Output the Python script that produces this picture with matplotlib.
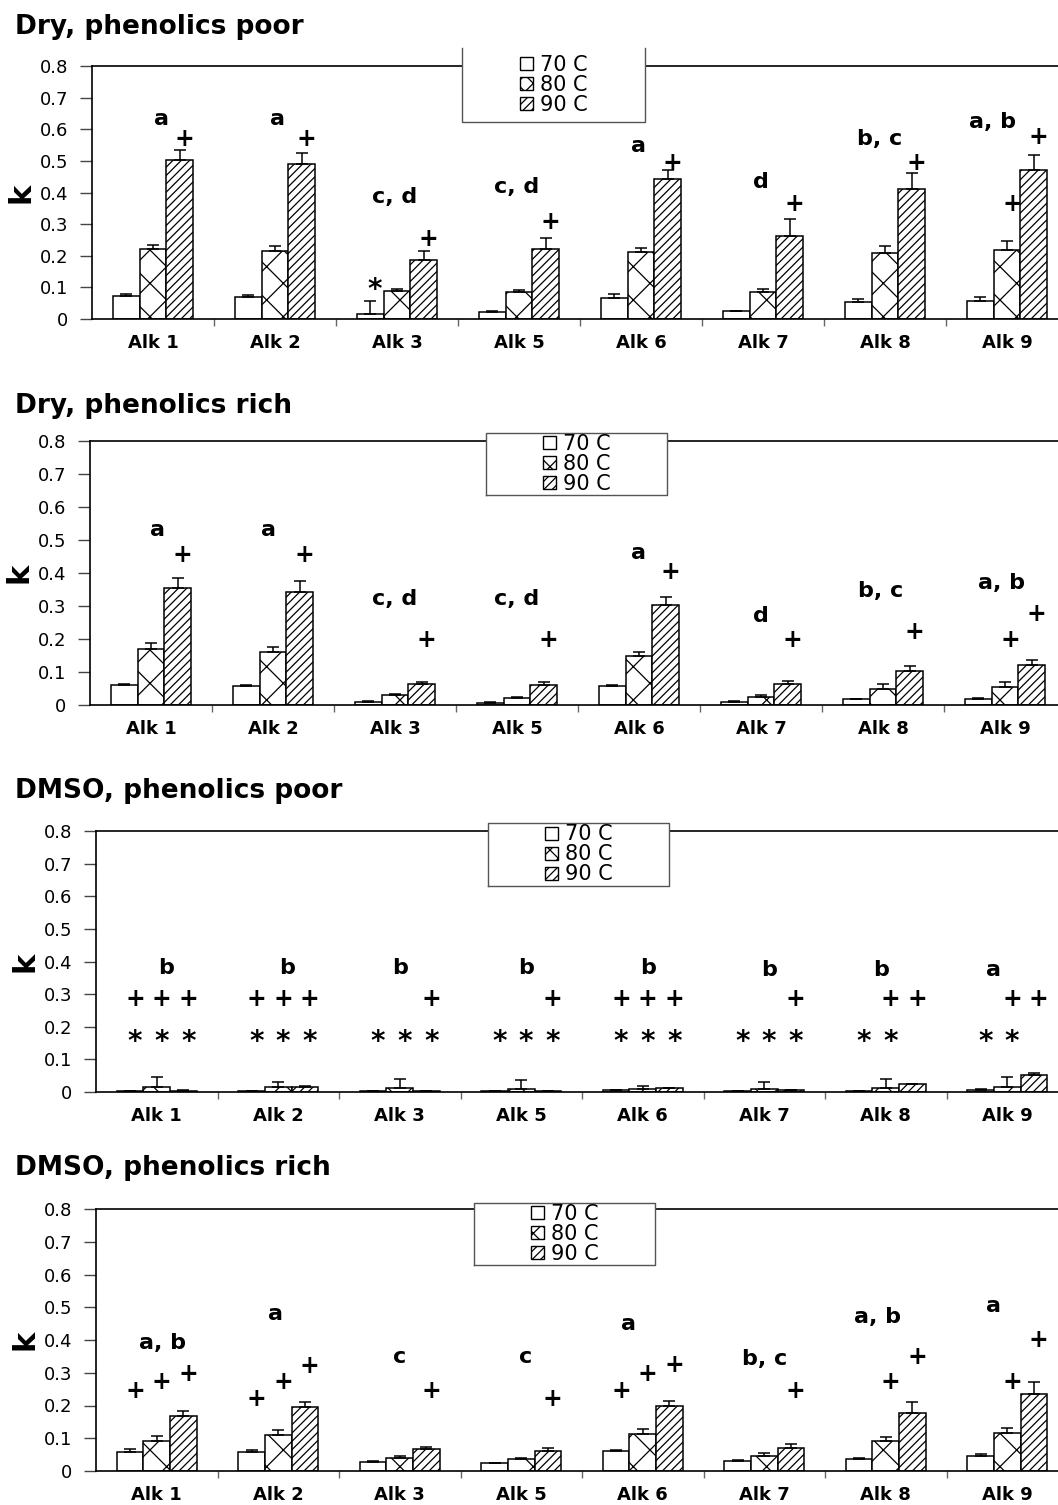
import numpy as np
import matplotlib.pyplot as plt
from matplotlib.patches import Rectangle, Patch

plt.rcParams['font.family'] = ['DejaVu Sans']
plt.rcParams['hatch.linewidth'] = 0.9

groups = ['Alk 1', 'Alk 2', 'Alk 3', 'Alk 5', 'Alk 6', 'Alk 7', 'Alk 8', 'Alk 9']
temps = ['70 C', '80 C', '90 C']
hatches = ['', 'x', '////']
legend_hatches = ['', 'xx', '////']
titles = ['Dry, phenolics poor', 'Dry, phenolics rich',
          'DMSO, phenolics poor', 'DMSO, phenolics rich']

# Dry, phenolics poor
dp_k70 = [0.072, 0.070, 0.017, 0.022, 0.067, 0.024, 0.054, 0.058]
dp_e70 = [0.008, 0.006, 0.039, 0.003, 0.011, 0.002, 0.010, 0.012]
dp_k80 = [0.222, 0.215, 0.087, 0.085, 0.212, 0.084, 0.209, 0.217]
dp_e80 = [0.013, 0.016, 0.009, 0.008, 0.014, 0.011, 0.023, 0.029]
dp_k90 = [0.502, 0.491, 0.188, 0.222, 0.444, 0.261, 0.412, 0.472]
dp_e90 = [0.031, 0.034, 0.026, 0.034, 0.026, 0.054, 0.049, 0.046]
dp_letters = ['a', 'a', 'c, d', 'c, d', 'a', 'd', 'b, c', 'a, b']
dp_letter_y = [0.633, 0.633, 0.386, 0.417, 0.549, 0.433, 0.570, 0.623]
dp_plus = [(0, 2, 0.575), (1, 2, 0.575), (2, 2, 0.257), (3, 2, 0.312), (4, 2, 0.499),
           (5, 2, 0.367), (6, 2, 0.499), (7, 2, 0.581), (7, 1, 0.367)]
dp_star = [(2, 0, 0.117)]

# Dry, phenolics rich
dr_k70 = [0.061, 0.058, 0.010, 0.007, 0.058, 0.010, 0.017, 0.018]
dr_e70 = [0.002, 0.002, 0.002, 0.002, 0.002, 0.002, 0.002, 0.002]
dr_k80 = [0.169, 0.162, 0.030, 0.022, 0.148, 0.025, 0.048, 0.054]
dr_e80 = [0.018, 0.015, 0.003, 0.003, 0.014, 0.005, 0.015, 0.017]
dr_k90 = [0.354, 0.343, 0.064, 0.060, 0.303, 0.063, 0.104, 0.120]
dr_e90 = [0.031, 0.032, 0.007, 0.010, 0.025, 0.010, 0.014, 0.016]
dr_letters = ['a', 'a', 'c, d', 'c, d', 'a', 'd', 'b, c', 'a, b']
dr_letter_y = [0.530, 0.530, 0.323, 0.323, 0.460, 0.270, 0.346, 0.371]
dr_plus = [(0, 2, 0.460), (1, 2, 0.460), (2, 2, 0.202), (3, 2, 0.202), (4, 2, 0.407),
           (5, 2, 0.202), (6, 2, 0.227), (7, 2, 0.280), (7, 1, 0.202)]
dr_star = []

# DMSO, phenolics poor
mp_k70 = [0.002, 0.003, 0.002, 0.003, 0.005, 0.004, 0.003, 0.006]
mp_e70 = [0.000, 0.000, 0.000, 0.000, 0.001, 0.000, 0.000, 0.004]
mp_k80 = [0.014, 0.014, 0.013, 0.010, 0.010, 0.009, 0.013, 0.014]
mp_e80 = [0.031, 0.018, 0.026, 0.027, 0.009, 0.023, 0.026, 0.031]
mp_k90 = [0.003, 0.016, 0.003, 0.003, 0.012, 0.006, 0.023, 0.052]
mp_e90 = [0.002, 0.002, 0.001, 0.001, 0.001, 0.001, 0.001, 0.005]
mp_letters = ['b', 'b', 'b', 'b', 'b', 'b', 'b', 'a']
mp_letter_y = [0.381, 0.381, 0.381, 0.381, 0.381, 0.375, 0.375, 0.375]
mp_plus_bars = [[0, 1, 2], [0, 1, 2], [2], [2], [0, 1, 2], [2], [1, 2], [1, 2]]
mp_star_bars = [[0, 1, 2], [0, 1, 2], [0, 1, 2], [0, 1, 2], [0, 1, 2], [0, 1, 2], [0, 1], [0, 1]]
mp_plus_y = 0.289
mp_star_y = 0.179
mp_plus = [(g, b, mp_plus_y) for g, bs in enumerate(mp_plus_bars) for b in bs]
mp_star = [(g, b, mp_star_y) for g, bs in enumerate(mp_star_bars) for b in bs]

# DMSO, phenolics rich
mr_k70 = [0.059, 0.059, 0.026, 0.023, 0.062, 0.031, 0.038, 0.047]
mr_e70 = [0.007, 0.005, 0.006, 0.002, 0.002, 0.002, 0.001, 0.005]
mr_k80 = [0.092, 0.110, 0.041, 0.036, 0.112, 0.046, 0.092, 0.115]
mr_e80 = [0.015, 0.015, 0.006, 0.005, 0.016, 0.008, 0.011, 0.015]
mr_k90 = [0.169, 0.194, 0.066, 0.062, 0.197, 0.071, 0.178, 0.235]
mr_e90 = [0.015, 0.016, 0.006, 0.007, 0.018, 0.010, 0.032, 0.038]
mr_letters = ['a, b', 'a', 'c', 'c', 'a', 'b, c', 'a, b', 'a']
mr_letter_y = [0.393, 0.479, 0.348, 0.348, 0.451, 0.342, 0.472, 0.504]
mr_plus = [(0, 0, 0.250), (0, 1, 0.275), (0, 2, 0.301), (1, 0, 0.225), (1, 1, 0.275),
           (1, 2, 0.326), (2, 2, 0.250), (3, 2, 0.225), (4, 0, 0.250), (4, 1, 0.302),
           (4, 2, 0.327), (5, 2, 0.250), (6, 1, 0.275), (6, 2, 0.353), (7, 1, 0.275),
           (7, 2, 0.406)]
mr_star = []

# layout (pixels of the 1058x1505 figure)
axes_px = [(92, 66, 1068, 319), (90, 441, 1066, 705),
           (96, 831, 1068, 1092), (96, 1209, 1068, 1471)]
legend_px = [(462, 48, 645, 122), (486, 433, 667, 495),
             (488, 823, 669, 886), (474, 1203, 655, 1265)]
legend_top_edge = [False, True, True, True]
title_base = [34, 413, 798, 1175]
letter_dx = [[0.07, 0.02, -0.02, -0.02, -0.02, -0.02, -0.04, -0.12],
             [0.05, -0.04, 0.0, 0.0, 0.0, 0.0, -0.02, -0.03],
             [0.08, 0.07, 0.0, 0.04, 0.04, 0.04, -0.04, -0.11],
             [0.05, -0.02, 0.0, 0.04, -0.12, 0.0, -0.07, -0.11]]

panels = [
    ([dp_k70, dp_k80, dp_k90], [dp_e70, dp_e80, dp_e90], dp_letters, dp_letter_y, dp_plus, dp_star),
    ([dr_k70, dr_k80, dr_k90], [dr_e70, dr_e80, dr_e90], dr_letters, dr_letter_y, dr_plus, dr_star),
    ([mp_k70, mp_k80, mp_k90], [mp_e70, mp_e80, mp_e90], mp_letters, mp_letter_y, mp_plus, mp_star),
    ([mr_k70, mr_k80, mr_k90], [mr_e70, mr_e80, mr_e90], mr_letters, mr_letter_y, mr_plus, mr_star),
]

FW, FH = 1058, 1505
W = 0.22
xc = np.arange(len(groups)) + 0.5


def mark(ax, xv, yv, s, size, lift):
    ax.annotate(s, (xv, yv), xytext=(0, -lift * size), textcoords='offset points',
                ha='center', va='baseline', fontsize=size, fontweight='bold',
                annotation_clip=False, zorder=4)


fig = plt.figure(figsize=(FW / 100, FH / 100), dpi=100)

for i, (vals, errs, letters, letter_y, pluses, stars) in enumerate(panels):
    x0, y0, x1, y1 = axes_px[i]
    ax = fig.add_axes([x0 / FW, 1 - y1 / FH, (x1 - x0) / FW, (y1 - y0) / FH])
    for j in range(3):
        xs = xc + (j - 1) * W
        ax.bar(xs, vals[j], W, color='white', edgecolor='black', hatch=hatches[j],
               linewidth=1.1, zorder=2)
        ax.errorbar(xs, vals[j], yerr=[np.zeros(len(groups)), errs[j]], fmt='none',
                    ecolor='black', elinewidth=1.1, capsize=4.5, capthick=1.1, zorder=3)

    for g, s in enumerate(letters):
        mark(ax, xc[g] + letter_dx[i][g], letter_y[g], s, 16, 0.28)
    for g, b, yv in pluses:
        mark(ax, xc[g] + (b - 1) * W + 0.04, yv, '+', 17, 0.36)
    for g, b, yv in stars:
        mark(ax, xc[g] + (b - 1) * W + 0.04, yv, '*', 20, 0.575)

    ax.set_xlim(0, len(groups))
    ax.set_ylim(0, 0.8)
    yt = np.arange(0, 0.81, 0.1)
    ax.set_yticks(yt)
    ax.set_yticklabels(['0'] + ['%.1f' % v for v in yt[1:]])
    ax.tick_params(axis='y', length=9, width=1, color='#444', pad=8, labelsize=13)
    ax.set_xticks(xc)
    ax.set_xticklabels(groups, fontsize=13, fontweight='bold')
    ax.tick_params(axis='x', which='major', length=0, pad=11)
    ax.set_xticks(np.arange(1, len(groups)), minor=True)
    ax.tick_params(axis='x', which='minor', length=5, width=1, color='#666')
    ax.spines['right'].set_visible(False)
    for sp in ['left', 'bottom', 'top']:
        ax.spines[sp].set_linewidth(1.2)
    ax.set_ylabel('k', fontsize=22, fontweight='bold', rotation=90)
    ax.yaxis.set_label_coords(-0.058, 0.5)

    lx0, ly0, lx1, ly1 = legend_px[i]
    fx0, fx1 = lx0 / FW, lx1 / FW
    fy0, fy1 = 1 - ly1 / FH, 1 - ly0 / FH
    ax.add_patch(Rectangle((fx0, fy0), fx1 - fx0, fy1 - fy0,
                           transform=fig.transFigure, facecolor='white',
                           edgecolor='none', clip_on=False, zorder=5))
    if legend_top_edge[i]:
        ex, ey = [fx0, fx0, fx1, fx1, fx0], [fy0, fy1, fy1, fy0, fy0]
    else:
        ex, ey = [fx0, fx0, fx1, fx1], [fy1, fy0, fy0, fy1]
    ax.plot(ex, ey, color='#555', linewidth=1, transform=fig.transFigure,
            clip_on=False, zorder=5.5)
    handles = [Patch(facecolor='white', edgecolor='black', hatch=h, linewidth=1)
               for h in legend_hatches]
    leg = ax.legend(handles, temps, loc='center',
                    bbox_to_anchor=((lx0 + lx1) / 2 / FW, 1 - (ly0 + ly1) / 2 / FH),
                    bbox_transform=fig.transFigure, frameon=False, fontsize=15,
                    handlelength=0.65, handleheight=0.6, handletextpad=0.3,
                    labelspacing=0.0, borderpad=0)
    leg.set_zorder(6)

    fig.text(15 / FW, 1 - title_base[i] / FH, titles[i], fontsize=19,
             fontweight='bold', ha='left', va='baseline')

fig.savefig('out.png', dpi=100)
